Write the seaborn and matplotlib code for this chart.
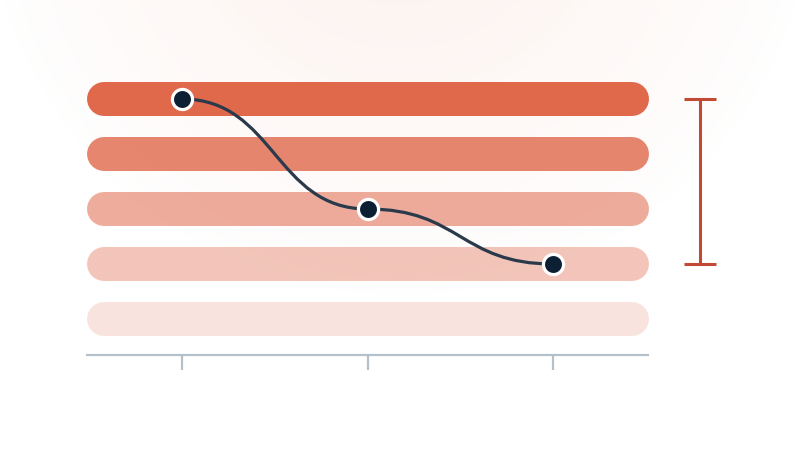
import numpy as np
import pandas as pd
import matplotlib.pyplot as plt
from matplotlib.patches import PathPatch
from matplotlib.path import Path
import seaborn as sns

# data
rows = [0, 1, 2, 3, 4]
bar_alpha = [1.0, 0.8, 0.55, 0.38, 0.18]
bar_start = 0.49
bar_end = 3.52
tick_x = [1, 2, 3]
point_x = [1, 2, 3]
point_row = [0, 2, 3]
range_low = 0
range_high = 3

bar_color = '#e0684b'
line_color = '#2a3a4b'
dot_color = '#0c1f33'
axis_color = '#b4c1ca'
range_color = '#c24a35'

sns.set_theme(style='white')

fig = plt.figure(figsize=(8, 4.5), dpi=100)

# faint radial glow at the top
bg = fig.add_axes([0, 0, 1, 1])
yy, xx = np.mgrid[0:450, 0:800]
r = np.sqrt((xx - 400) ** 2 + (yy + 120) ** 2)
a = np.clip(1 - r / 420, 0, 1) ** 0.8 * 0.13
img = np.zeros((450, 800, 4))
img[..., 0] = 240 / 255
img[..., 1] = 150 / 255
img[..., 2] = 120 / 255
img[..., 3] = a
bg.imshow(img, extent=(0, 800, 450, 0), aspect='auto')
bg.axis('off')

ax = fig.add_axes([0, 0, 1, 1])
ax.patch.set_alpha(0)
px_x = 185.5
px_y = 55.0
ax.set_xlim(1 - 182 / px_x, 1 + 618 / px_x)
ax.set_ylim((450 - 99) / px_y, -99 / px_y)
ax.axis('off')

# rounded bars drawn as thick round-capped strokes
bar_px = 34
rad = bar_px / 2 / px_x
for row, al in zip(rows, bar_alpha):
    ax.plot([bar_start + rad, bar_end - rad], [row, row], color=bar_color,
            lw=bar_px * 0.72, solid_capstyle='round', alpha=al, zorder=1)

# axis line and ticks
axis_y = (355 - 99) / px_y
ax.plot([bar_start - 0.005, bar_end], [axis_y, axis_y], color=axis_color, lw=1.6,
        solid_capstyle='butt', zorder=1)
ax.vlines(tick_x, axis_y, axis_y + 15 / px_y, color=axis_color, lw=1.6, zorder=1)

# smooth connecting curve
verts = [(point_x[0], point_row[0])]
codes = [Path.MOVETO]
for i in range(1, len(point_x)):
    xm = (point_x[i - 1] + point_x[i]) / 2
    verts += [(xm, point_row[i - 1]), (xm, point_row[i]), (point_x[i], point_row[i])]
    codes += [Path.CURVE4] * 3
ax.add_patch(PathPatch(Path(verts, codes), facecolor='none', edgecolor=line_color,
                       lw=2.3, zorder=3))

df = pd.DataFrame({'x': point_x, 'row': point_row})
sns.scatterplot(data=df, x='x', y='row', ax=ax, s=210, color=dot_color,
                edgecolor='white', linewidth=2.3, zorder=4)
ax.set_xlabel('')
ax.set_ylabel('')

# range bracket
range_x = 1 + 518 / px_x
mid = (range_low + range_high) / 2
ax.errorbar([range_x], [mid], yerr=[(range_high - range_low) / 2], fmt='none',
            ecolor=range_color, elinewidth=2.2, capsize=11.5, capthick=2.2, zorder=2)

fig.savefig('out.png', dpi=100)
